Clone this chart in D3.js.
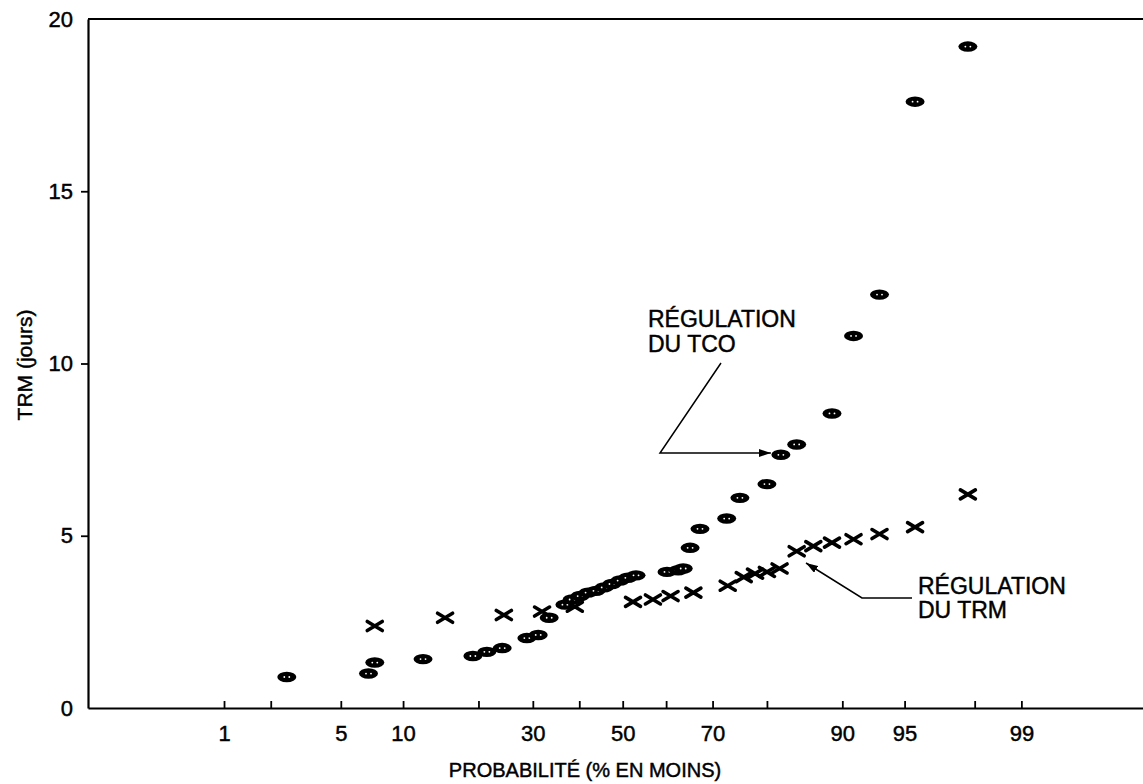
<!DOCTYPE html>
<html>
<head>
<meta charset="utf-8">
<script src="https://cdn.jsdelivr.net/npm/d3@7"></script>
<style>
  html, body { margin: 0; padding: 0; background: #fff; }
  svg { display: block; }
  text { font-family: "Liberation Sans", Arial, Helvetica, sans-serif; fill: #000; stroke: #000; stroke-width: 0.45px; }
</style>
</head>
<body>
<svg id="chart" width="1143" height="784"></svg>
<script>
// Probability axis ticks (% non-exceedance)
const probTicks = [1, 2, 5, 10, 20, 30, 40, 50, 60, 70, 80, 90, 95, 98, 99];
const probLabels = [1, 5, 10, 30, 50, 70, 90, 95, 99];
const valueTicks = [0, 5, 10, 15, 20];

// Régulation du TCO : probabilité (%), TRM (jours)
const tcoProb = [2.5, 6.9, 7.4, 12.2, 19.1, 21.4, 24.1, 28.8, 31.1, 33.4,
                 36.8, 38.4, 40.2, 42.0, 43.8, 45.7, 47.5, 49.4, 51.2, 53.1,
                 60.2, 62.7, 63.8, 65.3, 67.4, 72.8, 75.3, 80.0, 82.2, 84.5,
                 88.9, 91.1, 93.3, 95.6, 97.8];
const tcoValue = [0.9, 1.0, 1.32, 1.42, 1.51, 1.63, 1.74, 2.03, 2.12, 2.62,
                  3.0, 3.15, 3.25, 3.35, 3.4, 3.5, 3.6, 3.7, 3.78, 3.85,
                  3.95, 4.0, 4.05, 4.65, 5.2, 5.5, 6.1, 6.5, 7.35, 7.65,
                  8.55, 10.8, 12.0, 17.6, 19.2];

// Régulation du TRM : probabilité (%), TRM (jours)
const trmProb = [7.4, 15.0, 24.4, 31.9, 39.0, 52.4, 57.0, 61.0, 66.0, 73.0,
                 76.0, 78.0, 80.0, 82.0, 84.5, 86.7, 88.9, 91.1, 93.3, 95.6, 97.8];
const trmValue = [2.38, 2.62, 2.7, 2.8, 2.94, 3.08, 3.15, 3.25, 3.35, 3.55,
                  3.8, 3.9, 3.95, 4.05, 4.55, 4.7, 4.8, 4.9, 5.05, 5.25, 6.2];

// Inverse of the standard normal CDF (Acklam's rational approximation)
function probit(p) {
  const a = [-3.969683028665376e+01, 2.209460984245205e+02, -2.759285104469687e+02,
             1.383577518672690e+02, -3.066479806614716e+01, 2.506628277459239e+00];
  const b = [-5.447609879822406e+01, 1.615858368580409e+02, -1.556989798598866e+02,
             6.680131188771972e+01, -1.328068155288572e+01];
  const c = [-7.784894002430293e-03, -3.223964580411365e-01, -2.400758277161838e+00,
             -2.549732539343734e+00, 4.374664141464968e+00, 2.938163982698783e+00];
  const d = [7.784695709041462e-03, 3.224671290700398e-01, 2.445134137142996e+00,
             3.754408661907416e+00];
  const pl = 0.02425;
  let q, r;
  if (p < pl) {
    q = Math.sqrt(-2 * Math.log(p));
    return (((((c[0]*q+c[1])*q+c[2])*q+c[3])*q+c[4])*q+c[5]) /
           ((((d[0]*q+d[1])*q+d[2])*q+d[3])*q+1);
  }
  if (p <= 1 - pl) {
    q = p - 0.5; r = q * q;
    return (((((a[0]*r+a[1])*r+a[2])*r+a[3])*r+a[4])*r+a[5])*q /
           (((((b[0]*r+b[1])*r+b[2])*r+b[3])*r+b[4])*r+1);
  }
  q = Math.sqrt(-2 * Math.log(1 - p));
  return -(((((c[0]*q+c[1])*q+c[2])*q+c[3])*q+c[4])*q+c[5]) /
          ((((d[0]*q+d[1])*q+d[2])*q+d[3])*q+1);
}

const svg = d3.select("#chart");
const plotLeft = 88, plotRight = 1143, plotTop = 19, plotBottom = 708;

// Normal-probability scale: linear in z, exposed as a scale of percentages
const zScale = d3.scaleLinear().domain([-3.12, 3.036]).range([plotLeft, plotRight]);
function makeProbScale() {
  const s = p => zScale(probit(p / 100));
  s.domain = () => [0.09, 99.88];
  s.range = () => zScale.range();
  s.copy = () => makeProbScale();
  return s;
}
const x = makeProbScale();
const y = d3.scaleLinear().domain([0, 20]).range([plotBottom, plotTop]);

// Frame top line
svg.append("line")
  .attr("x1", plotLeft).attr("x2", plotRight)
  .attr("y1", plotTop).attr("y2", plotTop)
  .attr("stroke", "#000").attr("stroke-width", 2);

// X axis
const xAxis = svg.append("g")
  .attr("transform", `translate(0,${plotBottom})`)
  .call(d3.axisBottom(x)
    .tickValues(probTicks)
    .tickFormat(d => probLabels.includes(d) ? String(d) : "")
    .tickSizeInner(-7).tickSizeOuter(0).tickPadding(17));
xAxis.select(".domain").attr("stroke-width", 2.2);
xAxis.selectAll(".tick line").attr("stroke-width", 1.8);
xAxis.selectAll("text").attr("font-size", 22).attr("font-family", null);

// Y axis
const yAxis = svg.append("g")
  .attr("transform", `translate(${plotLeft},0)`)
  .call(d3.axisLeft(y)
    .tickValues(valueTicks)
    .tickSizeInner(7).tickSizeOuter(0).tickPadding(8));
yAxis.select(".domain").attr("stroke-width", 2.2);
yAxis.selectAll(".tick line").attr("stroke-width", 1.8)
  .attr("display", d => (d === 0 || d === 20) ? "none" : null);
yAxis.selectAll("text").attr("font-size", 22).attr("font-family", null);

// Axis titles
svg.append("text")
  .attr("x", 585).attr("y", 777)
  .attr("text-anchor", "middle")
  .attr("font-size", 20)
  .text("PROBABILITÉ (% EN MOINS)");

svg.append("text")
  .attr("transform", "translate(32,365) rotate(-90)")
  .attr("text-anchor", "middle")
  .attr("font-size", 21)
  .text("TRM (jours)");

// TRM-regulation points: crosses
const trm = trmProb.map((p, i) => ({ p, v: trmValue[i] }));
const cross = svg.append("g").selectAll("g").data(trm).join("g")
  .attr("transform", d => `translate(${x(d.p)},${y(d.v)})`);
cross.append("path")
  .attr("d", "M-7.5,-4.5L7.5,4.5M-7.5,4.5L7.5,-4.5")
  .attr("stroke", "#000").attr("stroke-width", 3.6)
  .attr("stroke-linecap", "round").attr("fill", "none");

// TCO-regulation points: filled ellipses with two light specks
const tco = tcoProb.map((p, i) => ({ p, v: tcoValue[i] }));
const ell = svg.append("g").selectAll("g").data(tco).join("g")
  .attr("transform", d => `translate(${x(d.p)},${y(d.v)})`);
ell.append("ellipse").attr("rx", 9.5).attr("ry", 5.2).attr("fill", "#000");
ell.append("circle").attr("cx", -2.5).attr("cy", 0).attr("r", 0.9).attr("fill", "#fff");
ell.append("circle").attr("cx", 2.5).attr("cy", 0).attr("r", 0.9).attr("fill", "#fff");

// Arrow marker
svg.append("defs").append("marker")
  .attr("id", "arrow").attr("viewBox", "0 0 12 8")
  .attr("refX", 12).attr("refY", 4)
  .attr("markerWidth", 12).attr("markerHeight", 8)
  .attr("markerUnits", "userSpaceOnUse")
  .attr("orient", "auto")
  .append("path").attr("d", "M0,0L12,4L0,8Z").attr("fill", "#000");

// Annotation: régulation du TCO
svg.append("text").attr("x", 648).attr("y", 327).attr("font-size", 23).text("RÉGULATION");
svg.append("text").attr("x", 648).attr("y", 352).attr("font-size", 23).text("DU TCO");
svg.append("path")
  .attr("d", `M721,363L660,453L${x(82.2) - 10},453`)
  .attr("fill", "none").attr("stroke", "#000").attr("stroke-width", 1.5)
  .attr("marker-end", "url(#arrow)");

// Annotation: régulation du TRM
svg.append("text").attr("x", 918).attr("y", 594).attr("font-size", 23).text("RÉGULATION");
svg.append("text").attr("x", 918).attr("y", 618).attr("font-size", 23).text("DU TRM");
svg.append("path")
  .attr("d", "M912,598L862,598L806,563")
  .attr("fill", "none").attr("stroke", "#000").attr("stroke-width", 1.5)
  .attr("marker-end", "url(#arrow)");
</script>
</body>
</html>
